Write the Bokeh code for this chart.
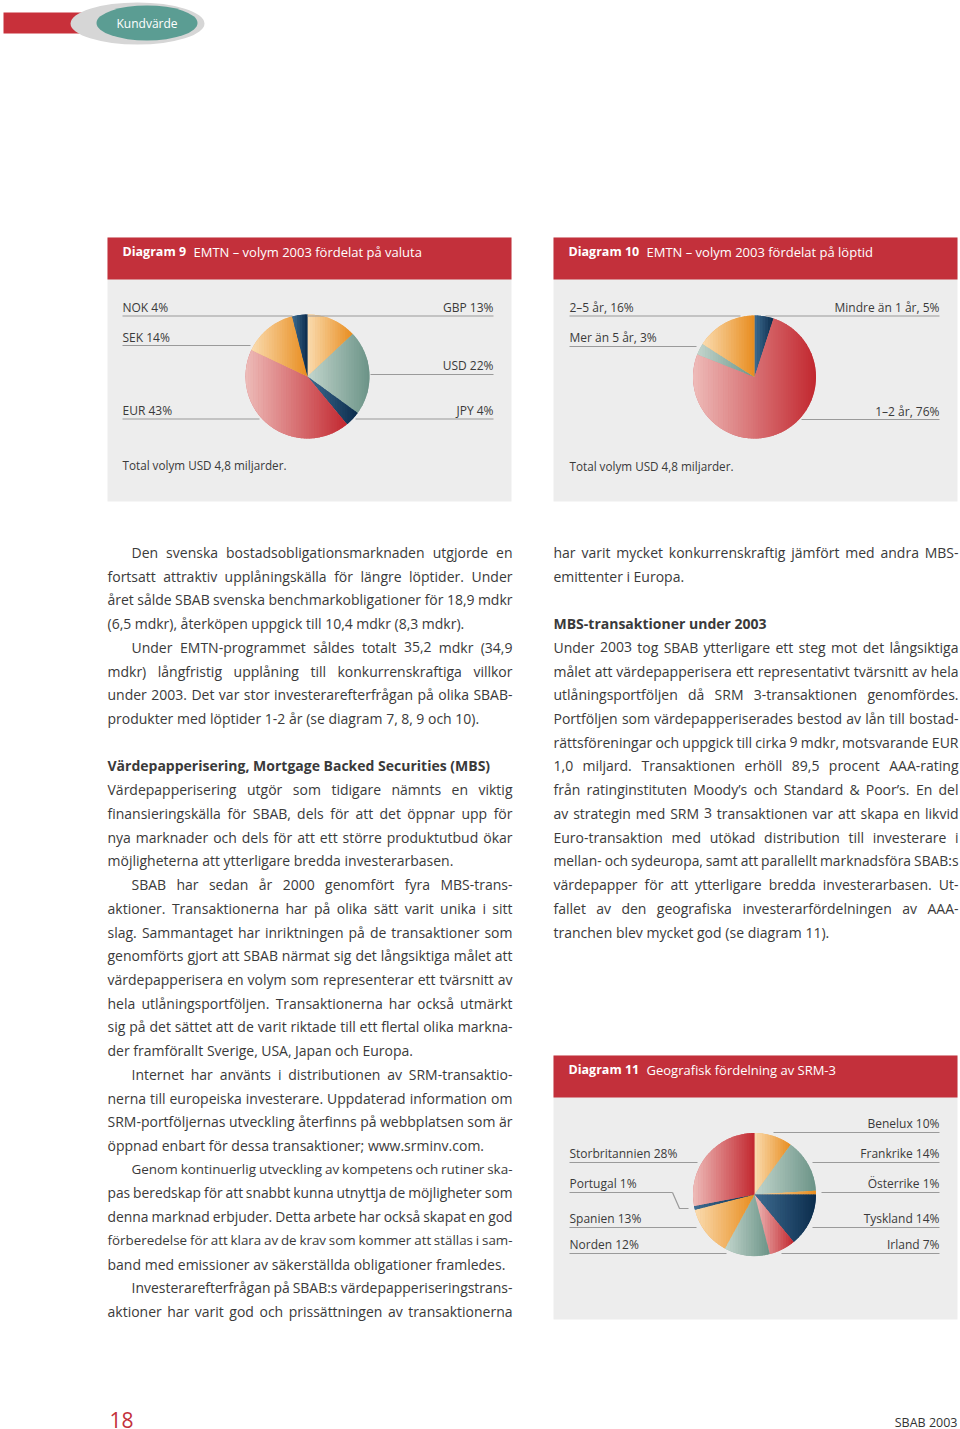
import numpy as np
from bokeh.plotting import figure
from bokeh.models import Range1d, ColumnDataSource
from bokeh.core.properties import value
from bokeh.embed import file_html
from bokeh.resources import INLINE

# ---------------- data ----------------
d9_labels = ["GBP 13%", "USD 22%", "JPY 4%", "EUR 43%", "SEK 14%", "NOK 4%"]
d9_values = [13, 22, 4, 43, 14, 4]
d9_kinds = ["orange", "green", "navy", "red", "orange", "navy"]

d10_labels = ["Mindre än 1 år, 5%", "1–2 år, 76%", "Mer än 5 år, 3%", "2–5 år, 16%"]
d10_values = [5, 76, 3, 16]
d10_kinds = ["navy", "red", "green", "orange"]

d11_labels = ["Benelux 10%", "Frankrike 14%", "Österrike 1%", "Tyskland 14%", "Irland 7%",
              "Norden 12%", "Spanien 13%", "Portugal 1%", "Storbritannien 28%"]
d11_values = [10, 14, 1, 14, 7, 12, 13, 1, 28]
d11_kinds = ["orange", "green", "orange", "navy", "red", "green", "orange", "navy", "red"]

titles = [("Diagram 9", "EMTN – volym 2003 fördelat på valuta"),
          ("Diagram 10", "EMTN – volym 2003 fördelat på löptid"),
          ("Diagram 11", "Geografisk fördelning av SRM-3")]
footnote = "Total volym USD 4,8 miljarder."

left_lines = [
    "Den svenska bostadsobligationsmarknaden utgjorde en",
    "fortsatt attraktiv upplåningskälla för längre löptider. Under",
    "året sålde SBAB svenska benchmarkobligationer för 18,9 mdkr",
    "(6,5 mdkr), återköpen uppgick till 10,4 mdkr (8,3 mdkr).",
    "Under EMTN-programmet såldes totalt 35,2 mdkr (34,9",
    "mdkr) långfristig upplåning till konkurrenskraftiga villkor",
    "under 2003. Det var stor investerarefterfrågan på olika SBAB-",
    "produkter med löptider 1-2 år (se diagram 7, 8, 9 och 10).",
    "",
    "Värdepapperisering, Mortgage Backed Securities (MBS)",
    "Värdepapperisering utgör som tidigare nämnts en viktig",
    "finansieringskälla för SBAB, dels för att det öppnar upp för",
    "nya marknader och dels för att ett större produktutbud ökar",
    "möjligheterna att ytterligare bredda investerarbasen.",
    "SBAB har sedan år 2000 genomfört fyra MBS-trans-",
    "aktioner. Transaktionerna har på olika sätt varit unika i sitt",
    "slag. Sammantaget har inriktningen på de transaktioner som",
    "genomförts gjort att SBAB närmat sig det långsiktiga målet att",
    "värdepapperisera en volym som representerar ett tvärsnitt av",
    "hela utlåningsportföljen. Transaktionerna har också utmärkt",
    "sig på det sättet att de varit riktade till ett flertal olika markna-",
    "der framförallt Sverige, USA, Japan och Europa.",
    "Internet har använts i distributionen av SRM-transaktio-",
    "nerna till europeiska investerare. Uppdaterad information om",
    "SRM-portföljernas utveckling återfinns på webbplatsen som är",
    "öppnad enbart för dessa transaktioner; www.srminv.com.",
    "Genom kontinuerlig utveckling av kompetens och rutiner ska-",
    "pas beredskap för att snabbt kunna utnyttja de möjligheter som",
    "denna marknad erbjuder. Detta arbete har också skapat en god",
    "förberedelse för att klara av de krav som kommer att ställas i sam-",
    "band med emissioner av säkerställda obligationer framledes.",
    "Investerarefterfrågan på SBAB:s värdepapperiseringstrans-",
    "aktioner har varit god och prissättningen av transaktionerna",
]
left_indent = {0, 4, 14, 22, 26, 31}
left_bold = {9}
left_ragged = {3, 7, 13, 21, 25, 30}

right_lines = [
    "har varit mycket konkurrenskraftig jämfört med andra MBS-",
    "emittenter i Europa.",
    "",
    "MBS-transaktioner under 2003",
    "Under 2003 tog SBAB ytterligare ett steg mot det långsiktiga",
    "målet att värdepapperisera ett representativt tvärsnitt av hela",
    "utlåningsportföljen då SRM 3-transaktionen genomfördes.",
    "Portföljen som värdepapperiserades bestod av lån till bostad-",
    "rättsföreningar och uppgick till cirka 9 mdkr, motsvarande EUR",
    "1,0 miljard. Transaktionen erhöll 89,5 procent AAA-rating",
    "från ratinginstituten Moody’s och Standard & Poor’s. En del",
    "av strategin med SRM 3 transaktionen var att skapa en likvid",
    "Euro-transaktion med utökad distribution till investerare i",
    "mellan- och sydeuropa, samt att parallellt marknadsföra SBAB:s",
    "värdepapper för att ytterligare bredda investerarbasen. Ut-",
    "fallet av den geografiska investerarfördelningen av AAA-",
    "tranchen blev mycket god (se diagram 11).",
]
right_bold = {3}
right_ragged = {1, 16}

# ---------------- styling / layout ----------------
FONT = "Open Sans"
TXT = "#3a3a3a"
RED = "#c3303b"
PANEL = "#ededed"
LEAD = "#9a9a9a"
# slice colour families: (light left edge, dark right edge)
ramps = {"red": ("#eebcb9", "#c2272f"), "orange": ("#fadcb0", "#e88c1e"),
         "green": ("#c3d6cd", "#6b9387"), "navy": ("#3f6d92", "#0b2c4c")}

# approximate Open Sans advance widths (units per em = 2048), used only for justification
_W = {" ": 532, "!": 547, "(": 606, ")": 606, ",": 502, "-": 659, ".": 545, ":": 545,
      ";": 545, "&": 1491, "%": 1696, "’": 373, "'": 453, "–": 1024,
      "A": 1296, "B": 1327, "C": 1292, "D": 1493, "E": 1139, "F": 1057, "G": 1491,
      "H": 1511, "I": 571, "J": 547, "K": 1257, "L": 1073, "M": 1849, "N": 1544,
      "O": 1595, "P": 1233, "Q": 1595, "R": 1266, "S": 1104, "T": 1120, "U": 1513,
      "V": 1237, "W": 1890, "X": 1214, "Y": 1155, "Z": 1174,
      "a": 1139, "b": 1255, "c": 975, "d": 1255, "e": 1149, "f": 694, "g": 1122,
      "h": 1257, "i": 518, "j": 518, "k": 1075, "l": 518, "m": 1905, "n": 1257,
      "o": 1237, "p": 1255, "q": 1255, "r": 836, "s": 977, "t": 723, "u": 1257,
      "v": 1026, "w": 1593, "x": 1073, "y": 1028, "z": 977}
for ch, base in (("å", "a"), ("ä", "a"), ("ö", "o"), ("Ö", "O"), ("é", "e")):
    _W[ch] = _W[base]


def width(s, size):
    return sum(_W.get(c, 1171) for c in s) / 2048.0 * size


def hex2rgb(h):
    return np.array([int(h[i:i + 2], 16) for i in (1, 3, 5)], dtype=float)


def mix(a, b, t):
    c = hex2rgb(a) * (1 - t) + hex2rgb(b) * t
    return "#%02x%02x%02x" % tuple(int(round(v)) for v in c)


p = figure(width=960, height=1429, output_backend="svg", toolbar_location=None,
           x_range=Range1d(0, 960), y_range=Range1d(1429, 0), min_border=0)
p.axis.visible = False
p.grid.visible = False
p.outline_line_color = None
p.background_fill_color = "white"
p.border_fill_color = "white"


def txt(x, y, s, size, color=TXT, align="left", style="normal", baseline="middle", font=FONT):
    p.text(x=[x], y=[y], text=[s], text_font=value(font), text_font_size=f"{size}px",
           text_color=color, text_align=align, text_baseline=baseline, text_font_style=style)


# top tab
p.quad(left=[3], right=[95], top=[12], bottom=[33], fill_color="#c8303a", line_color=None)
p.ellipse(x=[137], y=[23], width=[134], height=[42], fill_color="#d6d6d6", line_color=None)
p.ellipse(x=[146.5], y=[22.5], width=[101], height=[35], fill_color="#5b9d93", line_color=None)
txt(146.5, 23, "Kundvärde", 12, color="white", align="center")

# panels
panels = [(107, 511, 237, 501), (553, 957, 237, 501), (553, 957, 1055, 1319)]
offsets = [71, 78, 78]
for i, (l, r, t, b) in enumerate(panels):
    p.quad(left=[l], right=[r], top=[t], bottom=[b], fill_color=PANEL, line_color=None)
    p.quad(left=[l], right=[r], top=[t], bottom=[t + 42], fill_color=RED, line_color=None)
    head, rest = titles[i]
    txt(l + 15, t + 14, head, 12.5, color="white", style="bold")
    txt(l + 15 + offsets[i], t + 14, rest, 13, color="white")
txt(122, 464, footnote, 11.7)
txt(569, 465, footnote, 11.7)


def clip(poly, xmin, xmax):
    def half(pts, inside, xc):
        out = []
        for k in range(len(pts)):
            cur, prev = pts[k], pts[k - 1]
            ci, pi_ = inside(cur), inside(prev)
            if ci != pi_:
                t = (xc - prev[0]) / (cur[0] - prev[0])
                out.append((xc, prev[1] + (cur[1] - prev[1]) * t))
            if ci:
                out.append(cur)
        return out
    pts = half(poly, lambda q: q[0] >= xmin, xmin)
    if pts:
        pts = half(pts, lambda q: q[0] <= xmax, xmax)
    return pts


def pie(cx, cy, r, vals, kinds):
    v = np.array(vals, dtype=float)
    frac = v / v.sum()
    c1 = np.cumsum(frac)
    c0 = c1 - frac
    # base wedges (clockwise from 12 o'clock)
    src = ColumnDataSource(dict(x=[cx] * len(v), y=[cy] * len(v),
                                start=np.pi / 2 - 2 * np.pi * c1,
                                end=np.pi / 2 - 2 * np.pi * c0,
                                color=[mix(*ramps[k], 0.55) for k in kinds]))
    p.wedge(x="x", y="y", radius=r, start_angle="start", end_angle="end",
            fill_color="color", line_color=None, source=src)
    # horizontal light-to-dark shading inside each slice
    xs, ys, cols = [], [], []
    for a0, a1, k in zip(c0, c1, kinds):
        th = np.linspace(2 * np.pi * a0, 2 * np.pi * a1, max(3, int((a1 - a0) * 360)))
        poly = [(cx, cy)] + [(cx + r * np.sin(t), cy - r * np.cos(t)) for t in th]
        px = [q[0] for q in poly]
        lo, hi = min(px), max(px)
        n = max(2, int((hi - lo) / 2.5))
        step = (hi - lo) / n
        for j in range(n):
            part = clip(poly, lo + j * step, lo + (j + 1) * step + 0.6)
            if len(part) < 3:
                continue
            xs.append([q[0] for q in part])
            ys.append([q[1] for q in part])
            cols.append(mix(*ramps[k], (j + 0.5) / n))
    p.patches(xs="xs", ys="ys", fill_color="c", line_color=None,
              source=ColumnDataSource(dict(xs=xs, ys=ys, c=cols)))


pie(307, 376, 62, d9_values, d9_kinds)
pie(754, 376.5, 61.5, d10_values, d10_kinds)
pie(754, 1194, 61.5, d11_values, d11_kinds)

# label layout: (side, text_y, line_y, inner_x)
d9_layout = [("R", 307, 315.5, 307), ("R", 365, 374, 370), ("R", 410, 418.5, 355),
             ("L", 410, 418.5, 259), ("L", 337, 345, 250), ("L", 307, 315.5, 292)]
d10_layout = [("R", 307, 315.5, 765), ("R", 411, 419, 801),
              ("L", 337, 346, 696), ("L", 307, 315.5, 740)]
d11_layout = [("R", 1123, 1132, 773), ("R", 1153, 1162, 812), ("R", 1183, 1192, 821),
              ("R", 1218, 1227, 812), ("R", 1244, 1253, 781), ("L", 1244, 1253, 726),
              ("L", 1218, 1227, 696), ("L", 1183, 1192, 672), ("L", 1153, 1162, 697)]


def labels(lbls, layout, xl, xr):
    for s, (side, ty, ly, xi) in zip(lbls, layout):
        if side == "L":
            txt(xl, ty, s, 12)
            p.line(x=[xl, xi], y=[ly, ly], line_color=LEAD, line_width=1.2)
        else:
            txt(xr, ty, s, 12, align="right")
            p.line(x=[xi, xr], y=[ly, ly], line_color=LEAD, line_width=1.2)


labels(d9_labels, d9_layout, 122, 493)
labels(d10_labels, d10_layout, 569, 939)
labels(d11_labels, d11_layout, 569, 939)
# Portugal bent leader
p.line(x=[672, 679, 688], y=[1192, 1208, 1208], line_color=LEAD, line_width=1.2)

# body text (justified word by word)
Y0, DY, BODY = 552, 23.72, 14.0
words = dict(x=[], y=[], text=[], size=[])
rwords = dict(x=[], y=[], text=[], size=[])


def body(lines, x0, x1, indent, bold, ragged):
    for i, s in enumerate(lines):
        if not s:
            continue
        y = Y0 + i * DY
        xs = x0 + 24 if i in indent else x0
        if i in bold:
            txt(xs, y, s, 14, style="bold")
            continue
        size = BODY
        ws = s.split(" ")
        avail = x1 - xs
        sp = width(" ", size)
        nw = len(ws) - 1
        letters = sum(width(w, size) for w in ws)
        # allow spaces to shrink to 80% before reducing the type size
        if letters + nw * sp * 0.8 > avail:
            size = size * avail / (letters + nw * sp * 0.8)
        wl = [width(w, size) for w in ws]
        sp = width(" ", size)
        if i in ragged or nw == 0:
            gap = sp
        else:
            gap = (avail - sum(wl)) / nw
        x = xs
        for k, (w, ww) in enumerate(zip(ws, wl)):
            if k == nw and i not in ragged and nw > 0:
                rwords["x"].append(x1); rwords["y"].append(y)
                rwords["text"].append(w); rwords["size"].append(f"{size:.2f}px")
            else:
                words["x"].append(x); words["y"].append(y)
                words["text"].append(w); words["size"].append(f"{size:.2f}px")
            x += ww + gap


body(left_lines, 107, 512, left_indent, left_bold, left_ragged)
body(right_lines, 553, 958, set(), right_bold, right_ragged)
p.text(x="x", y="y", text="text", text_font_size="size", source=ColumnDataSource(words),
       text_font=value(FONT), text_color=TXT, text_align="left", text_baseline="middle")
p.text(x="x", y="y", text="text", text_font_size="size", source=ColumnDataSource(rwords),
       text_font=value(FONT), text_color=TXT, text_align="right", text_baseline="middle")

# footer
txt(109, 1419, "18", 21, color="#c3303b")
txt(957, 1422, "SBAB 2003", 12.5, align="right", color="#333333")

open("out.html", "w").write(file_html(p, INLINE))
